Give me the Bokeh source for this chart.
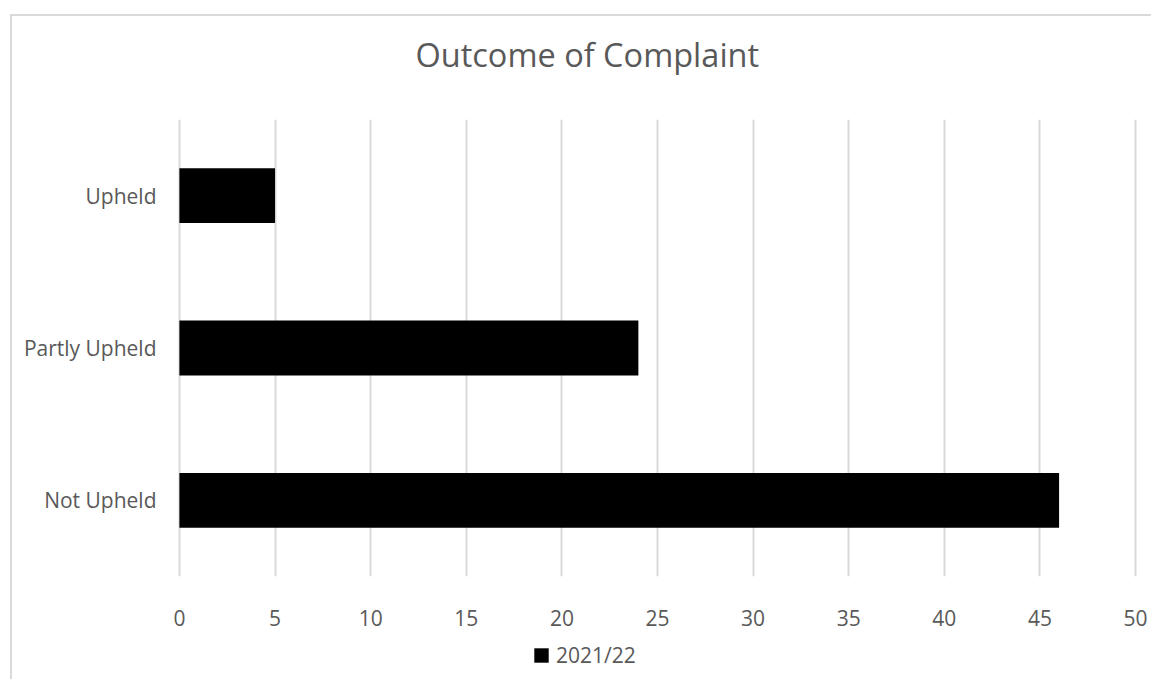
from bokeh.plotting import figure
from bokeh.models import Legend, LegendItem, Range1d, FixedTicker
from bokeh.layouts import column
from bokeh.embed import file_html
from bokeh.resources import INLINE

categories = ["Not Upheld", "Partly Upheld", "Upheld"]
values_2021_22 = [46, 24, 5]
series_name = "2021/22"
x_ticks = [0, 5, 10, 15, 20, 25, 30, 35, 40, 45, 50]
title_text = "Outcome of Complaint"

FONT = "Open Sans"
TXT = "#595959"

def strip(height):
    f = figure(width=1141, height=height, x_range=Range1d(0, 1), y_range=Range1d(0, 1),
               output_backend="svg", toolbar_location=None,
               x_axis_type=None, y_axis_type=None,
               min_border_left=165, min_border_right=16, min_border_top=0, min_border_bottom=0)
    f.outline_line_color = None
    f.grid.visible = False
    return f

# title strip
pt = strip(103)
pt.title.text = title_text
pt.title.align = "left"
pt.title.vertical_align = "top"
pt.title.text_font = FONT
pt.title.text_font_size = "32.5px"
pt.title.text_font_style = "normal"
pt.title.text_color = TXT
pt.title.offset = 238
pt.title.standoff = 30

# main chart
p = figure(width=1141, height=522, y_range=categories, x_range=Range1d(-0.1, 50.1),
           output_backend="svg", toolbar_location=None,
           min_border_left=165, min_border_right=16, min_border_top=0, min_border_bottom=65)

r = p.hbar(y=categories, right=values_2021_22, left=0, height=0.36,
           fill_color="black", line_color=None)

p.outline_line_color = None
p.ygrid.grid_line_color = None
p.xgrid.grid_line_color = "#d9d9d9"
p.xgrid.grid_line_width = 2
p.xaxis.ticker = FixedTicker(ticks=x_ticks)

for ax in (p.xaxis, p.yaxis):
    ax.axis_line_color = None
    ax.major_tick_line_color = None
    ax.minor_tick_line_color = None
    ax.major_tick_out = 0
    ax.major_tick_in = 0
    ax.major_label_text_font = FONT
    ax.major_label_text_color = TXT
    ax.major_label_text_font_size = "21px"
p.xaxis.major_label_standoff = 33
p.yaxis.major_label_standoff = 21

# legend strip below the chart
pl = strip(40)
# zero-size proxy glyph, only used for the legend swatch
proxy = pl.hbar(y=[0], right=[0], left=0, height=0, fill_color="black", line_color=None)

legend = Legend(items=[LegendItem(label=series_name, renderers=[proxy])],
                location=(355, 12), orientation="horizontal",
                border_line_color=None, background_fill_alpha=0,
                padding=0, margin=0, spacing=0,
                glyph_width=18, glyph_height=18, label_standoff=6, label_height=20,
                label_text_font=FONT, label_text_font_size="21px", label_text_color=TXT)
pl.add_layout(legend, "center")

layout = column(pt, p, pl, spacing=0)
layout.margin = (14, 0, 0, 10)
layout.styles = {"border-top": "2px solid #d9d9d9", "border-left": "2px solid #d9d9d9"}

open("out.html", "w").write(file_html(layout, INLINE))
